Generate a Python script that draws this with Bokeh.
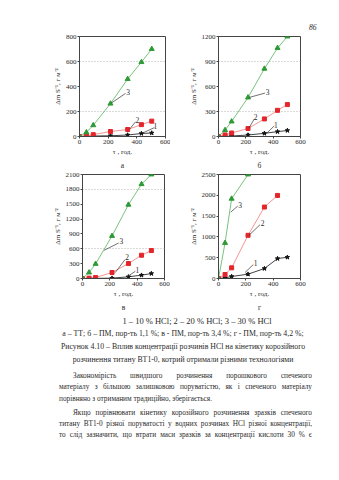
from bokeh.plotting import figure
from bokeh.models import Range1d, FixedTicker, Title, Div
from bokeh.layouts import column, row
from bokeh.embed import file_html
from bokeh.resources import INLINE
from bokeh.core.properties import value

# ---- data ----
t = [0, 48, 96, 216, 336, 432, 504]
a1 = [0, 2, 4, 6, 12, 24, 28]
a2 = [0, 6, 15, 40, 56, 95, 123]
a3 = [0, 33, 90, 263, 460, 595, 700]
b1 = [0, 0, 6, 18, 38, 58, 72]
b2 = [0, 19, 42, 96, 211, 314, 383]
b3 = [0, 77, 180, 468, 813, 1062, 1200]
c1 = [0, 0, 3, 7, 34, 67, 100]
c2 = [0, 7, 20, 121, 302, 470, 564]
c3 = [0, 121, 295, 859, 1489, 1905, 2100]
d_t2 = [0, 48, 96, 216, 336, 432]
d_t3 = [0, 48, 96, 216]
d1 = [0, 16, 48, 104, 240, 479, 511]
d2 = [0, 96, 256, 1038, 1717, 1997]
d3 = [0, 855, 1917, 2500]

x_ticks = [0, 200, 400, 600]
a_yticks = [0, 200, 400, 600, 800]
b_yticks = [0, 300, 600, 900, 1200]
c_yticks = [0, 300, 600, 900, 1200, 1500, 1800, 2100]
d_yticks = [0, 500, 1000, 1500, 2000, 2500]
captions = ["а", "б", "в", "г"]
x_title = "τ , год."
y_title = "Δm S⁻¹, г м⁻²"
page_number = "86"

FONT = "Liberation Serif"
INK = "#2a2a2a"
C1, C2, C3 = "#111111", "#e3262b", "#2e9a35"
L2, L3 = "#f07a7a", "#56b45c"


def panel(w, h, bl, br, bt, bb, yticks, series, grid_levels, notes, cap):
    p = figure(width=w, height=h, x_range=Range1d(0, 600),
               y_range=Range1d(0, yticks[-1]), output_backend="svg",
               toolbar_location=None, min_border_left=bl, min_border_right=br,
               min_border_top=bt, min_border_bottom=bb)
    p.background_fill_color = "white"
    p.border_fill_color = "white"
    p.outline_line_color = "#444444"
    p.outline_line_width = 1
    p.xgrid.visible = False
    p.ygrid.ticker = FixedTicker(ticks=grid_levels)
    p.ygrid.grid_line_color = "#b5b5b5"
    p.ygrid.grid_line_dash = "1 2"
    p.xaxis.ticker = FixedTicker(ticks=x_ticks)
    p.yaxis.ticker = FixedTicker(ticks=yticks)
    for ax in (p.xaxis[0], p.yaxis[0]):
        ax.major_label_text_font = FONT
        ax.major_label_text_font_size = "7px"
        ax.major_label_text_color = INK
        ax.axis_line_color = "#444444"
        ax.major_tick_line_color = "#444444"
        ax.major_tick_out = 2
        ax.major_tick_in = 0
        ax.minor_tick_line_color = None
        ax.major_label_standoff = 1
        ax.axis_label_text_font = FONT
        ax.axis_label_text_font_size = "7px"
        ax.axis_label_text_font_style = "normal"
        ax.axis_label_text_color = INK
        ax.axis_label_standoff = 1
    p.xaxis.axis_label = x_title
    p.yaxis.axis_label = y_title

    styles = [(C1, C1, "star", 4.5), (C2, L2, "square", 4), (C3, L3, "triangle", 5)]
    for (xs, ys), (mc, lc, mk, sz) in zip(series, styles):
        p.line(xs, ys, color=lc, line_width=0.8)
        p.scatter(xs, ys, marker=mk, size=sz, fill_color=mc, line_color=mc)

    for (num, lx, ly, sx0, sy0, sx1, sy1) in notes:
        p.segment(x0=[sx0], y0=[sy0], x1=[sx1], y1=[sy1], line_color="#333333", line_width=0.7)
        p.text(x=[lx], y=[ly], text=[num], text_font=value(FONT), text_font_size="7.5px",
               text_color=INK, text_align="center", text_baseline="middle")

    p.add_layout(Title(text=cap, align="center", text_font=FONT, text_font_size="7.5px",
                       text_font_style="normal", text_color=INK, standoff=0), "below")
    return p


pa = panel(170, 169, 79, 5, 36, 29, a_yticks, [(t, a1), (t, a2), (t, a3)], [200, 600],
           [("3", 340, 358, 223, 268, 321, 345),
            ("2", 403, 136, 350, 59, 391, 118),
            ("1", 530, 82, 443, 29, 522, 71)], captions[0])
pb = panel(169, 169, 48, 39, 36, 29, b_yticks, [(t, b1), (t, b2), (t, b3)], [300, 900],
           [("3", 360, 537, 223, 468, 340, 521),
            ("2", 272, 230, 223, 103, 262, 211),
            ("1", 420, 142, 352, 38, 408, 127)], captions[1])
pb.add_layout(Title(text=page_number, align="right", offset=-16, standoff=13,
                    text_font=FONT, text_font_size="7.5px", text_font_style="italic",
                    text_color=INK), "above")
pc = panel(170, 143, 82, 6, 5, 34, c_yticks, [(t, c1), (t, c2), (t, c3)], [600, 1800],
           [("3", 284, 750, 159, 570, 264, 716),
            ("2", 326, 434, 240, 121, 311, 382),
            ("1", 402, 179, 326, 32, 387, 147)], captions[2])
pd_ = panel(169, 143, 48, 39, 5, 34, d_yticks, [(t, d1), (d_t2, d2), (d_t3, d3)], [],
            [("3", 158, 1767, 90, 1597, 141, 1741),
             ("2", 323, 1333, 223, 1038, 304, 1294),
             ("1", 272, 374, 194, 144, 255, 336)], captions[3])

legend_line = "1 – 10 % HCl; 2 – 20 % HCl; 3 – 30 % HCl"
sub_line = "а – ТТ; б – ПМ, пор-ть 1,1 %; в - ПМ, пор-ть 3,4 %; г - ПМ, пор-ть 4,2 %;"
fig_lines = ["Рисунок 4.10 – Вплив концентрації розчинів HCl на кінетику корозійного",
             "розчинення титану ВТ1-0, котрий отримали різними технологіями"]
body_lines = ["Закономірість швидшого розчинення порошкового спеченого",
              "матеріалу з більшою залишковою поруватістю, як і спеченого матеріалу",
              "порівняно з отриманим традиційно, зберігається.",
              "Якщо порівнювати кінетику корозійного розчинення зразків спеченого",
              "титану ВТ1-0 різної поруватості у водних розчинах HCl різної концентрації,",
              "то слід зазначити, що втрати маси зразків за концентрації кислоти 30 % є"]

TOP0 = 312


def centered(txt, cy, cx, size):
    top = cy - TOP0 - 5
    return (f'<div style="position:absolute;left:{cx-170}px;top:{top}px;width:340px;'
            f'text-align:center;font-size:{size}px;line-height:10px;white-space:nowrap">{txt}</div>')


def just(txt, cy, left, right, last=True):
    top = cy - TOP0 - 5
    al = "justify" if last else "left"
    return (f'<div style="position:absolute;left:{left}px;top:{top}px;width:{right-left}px;'
            f'text-align:justify;text-align-last:{al};font-size:7.3px;line-height:10px;'
            f'height:10px;overflow:visible">{txt}</div>')


parts = [centered(legend_line, 316, 192, 8.5),
         centered(sub_line, 329, 178, 7.8),
         centered(fig_lines[0], 342, 178, 7.8),
         centered(fig_lines[1], 355, 178, 7.8),
         just(body_lines[0], 371, 68, 307),
         just(body_lines[1], 382, 54, 307),
         just(body_lines[2], 394, 54, 307, last=False),
         just(body_lines[3], 408, 68, 307),
         just(body_lines[4], 419, 54, 307),
         just(body_lines[5], 430, 54, 307)]
html = (f'<div style="position:relative;width:339px;height:168px;font-family:\'{FONT}\';'
        f'color:{INK};background:white">' + "".join(parts) + '</div>')
div = Div(text=html, width=339, height=168)

layout = column(row(pa, pb), row(pc, pd_), div)
open("out.html", "w").write(file_html(layout, INLINE))
